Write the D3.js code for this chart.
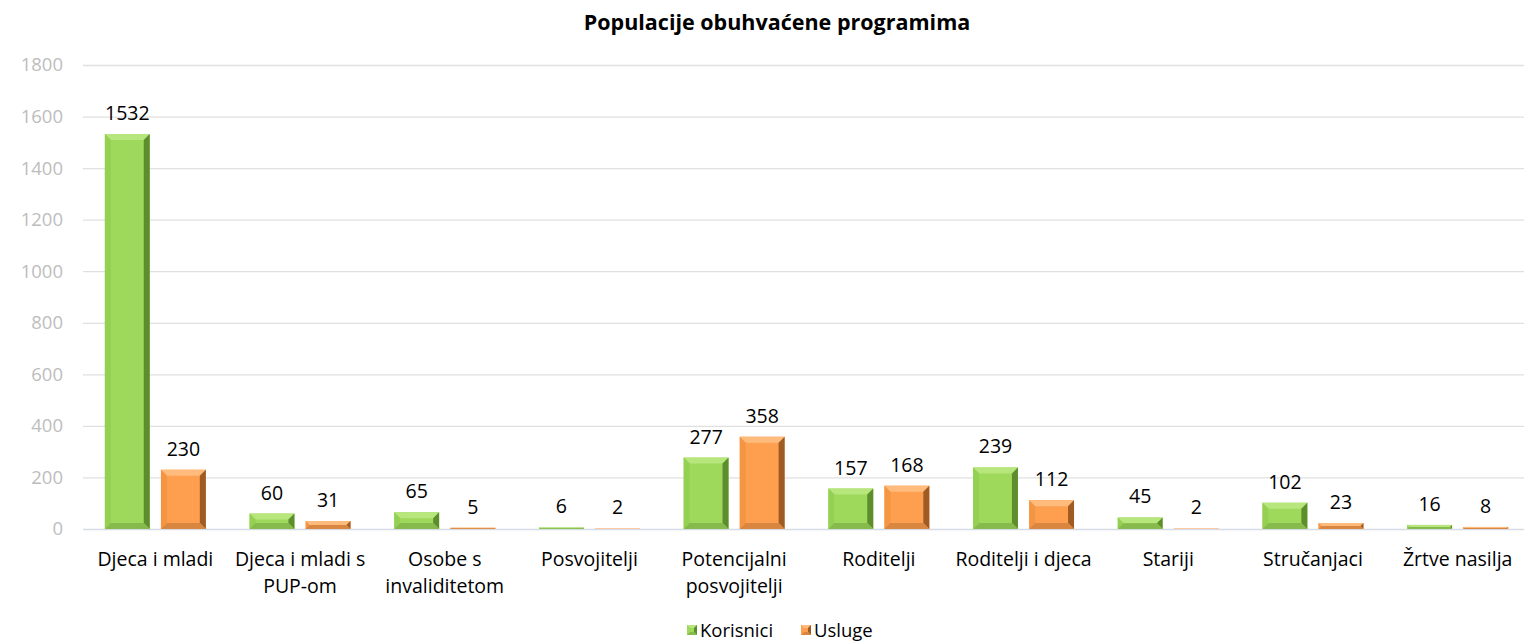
<!DOCTYPE html>
<html><head><meta charset="utf-8">
<script src="https://cdn.jsdelivr.net/npm/d3@7"></script>
<style>body{margin:0;background:#fff;overflow:hidden;} svg{display:block;font-family:"Open Sans", sans-serif;}</style>
</head><body>
<svg id="c" width="1524" height="643"></svg>
<script>
const categories = [["Djeca i mladi"],["Djeca i mladi s","PUP-om"],["Osobe s","invaliditetom"],["Posvojitelji"],["Potencijalni","posvojitelji"],["Roditelji"],["Roditelji i djeca"],["Stariji"],["Stručanjaci"],["Žrtve nasilja"]];
const korisnici = [1532,60,65,6,277,157,239,45,102,16];
const usluge = [230,31,5,2,358,168,112,2,23,8];
const yTicks = [0,200,400,600,800,1000,1200,1400,1600,1800];
const seriesNames = ["Korisnici","Usluge"];

const svg = d3.select("#c");
const L=83, R=1530, T=65, B=529;
const x = d3.scaleBand().domain(d3.range(categories.length)).range([L,R]);
const xs = d3.scaleBand().domain([0,1]).range([0,x.bandwidth()]).paddingInner(0.2).paddingOuter(0.39);
const y = d3.scaleLinear().domain([0,1800]).range([B,T]);

svg.append("text").attr("x",777).attr("y",30).attr("text-anchor","middle")
  .attr("font-weight","bold").attr("font-size",21.5).text("Populacije obuhvaćene programima");

const yAxis = d3.axisLeft(y).tickValues(yTicks).tickFormat(d3.format("d")).tickSize(-(R-L)).tickPadding(20);
const ga = svg.append("g").attr("transform",`translate(${L},0)`).call(yAxis);
ga.select(".domain").remove();
ga.selectAll(".tick line").attr("stroke",d=>d===0?"#d6dce6":"#e0e0e0").attr("stroke-width",1.3);
ga.selectAll(".tick text").attr("fill","#bdbdbd").attr("font-size",18.5).attr("font-family","'Open Sans', sans-serif");

const pal = [
  {main:"#9ed95b", top:"#b6e67c", left:"#94d052", right:"#5e8d2e", bottom:"#86ba4c"},
  {main:"#fd9f4f", top:"#ffbb7c", left:"#f49544", right:"#9e5c24", bottom:"#d98640"}
];
function bevelBar(g, x0, w, v, c, bmax){
  const y0=y(v), y1=y(0), h=y1-y0;
  const b=Math.min(bmax, h/2, w/2);
  g.append("rect").attr("x",x0).attr("y",y0).attr("width",w).attr("height",h).attr("fill",c.main);
  if(h<1) return;
  const pts=(a)=>a.map(p=>p.join(",")).join(" ");
  g.append("polygon").attr("points",pts([[x0,y0],[x0+w,y0],[x0+w-b,y0+b],[x0+b,y0+b]])).attr("fill",c.top);
  g.append("polygon").attr("points",pts([[x0,y0],[x0+b,y0+b],[x0+b,y1-b],[x0,y1]])).attr("fill",c.left);
  g.append("polygon").attr("points",pts([[x0+w,y0],[x0+w,y1],[x0+w-b,y1-b],[x0+w-b,y0+b]])).attr("fill",c.right);
  g.append("polygon").attr("points",pts([[x0,y1],[x0+b,y1-b],[x0+w-b,y1-b],[x0+w,y1]])).attr("fill",c.bottom);
}
const data=[korisnici,usluge];
const gb=svg.append("g");
categories.forEach((cat,i)=>{
  data.forEach((arr,s)=>{
    const x0=x(i)+xs(s), w=xs.bandwidth();
    bevelBar(gb,x0,w,arr[i],pal[s],6);
    gb.append("text").attr("x",x0+w/2).attr("y",y(arr[i])-14).attr("text-anchor","middle")
      .attr("font-size",19.5).attr("fill","#000").text(arr[i]);
  });
  const cx=x(i)+x.bandwidth()/2;
  const t=svg.append("text").attr("x",cx).attr("y",566).attr("text-anchor","middle").attr("font-size",19.5);
  cat.forEach((line,k)=>t.append("tspan").attr("x",cx).attr("dy",k?27:0).text(line));
});

const lg=svg.append("g");
const lx=[687,801];
seriesNames.forEach((n,s)=>{
  const c=pal[s], sx=lx[s], sy=625, ss=10;
  const g=lg.append("g");
  g.append("rect").attr("x",sx).attr("y",sy).attr("width",ss).attr("height",ss).attr("fill",c.main);
  g.append("polygon").attr("points",`${sx},${sy} ${sx+ss},${sy} ${sx+ss-3},${sy+3} ${sx+3},${sy+3}`).attr("fill",c.top);
  g.append("polygon").attr("points",`${sx+ss},${sy} ${sx+ss},${sy+ss} ${sx+ss-3},${sy+ss-3} ${sx+ss-3},${sy+3}`).attr("fill",c.right);
  g.append("polygon").attr("points",`${sx},${sy+ss} ${sx+3},${sy+ss-3} ${sx+ss-3},${sy+ss-3} ${sx+ss},${sy+ss}`).attr("fill",c.bottom);
  lg.append("text").attr("x",sx+13).attr("y",sy+12).attr("font-size",18.5).text(n);
});
</script>
</body></html>
